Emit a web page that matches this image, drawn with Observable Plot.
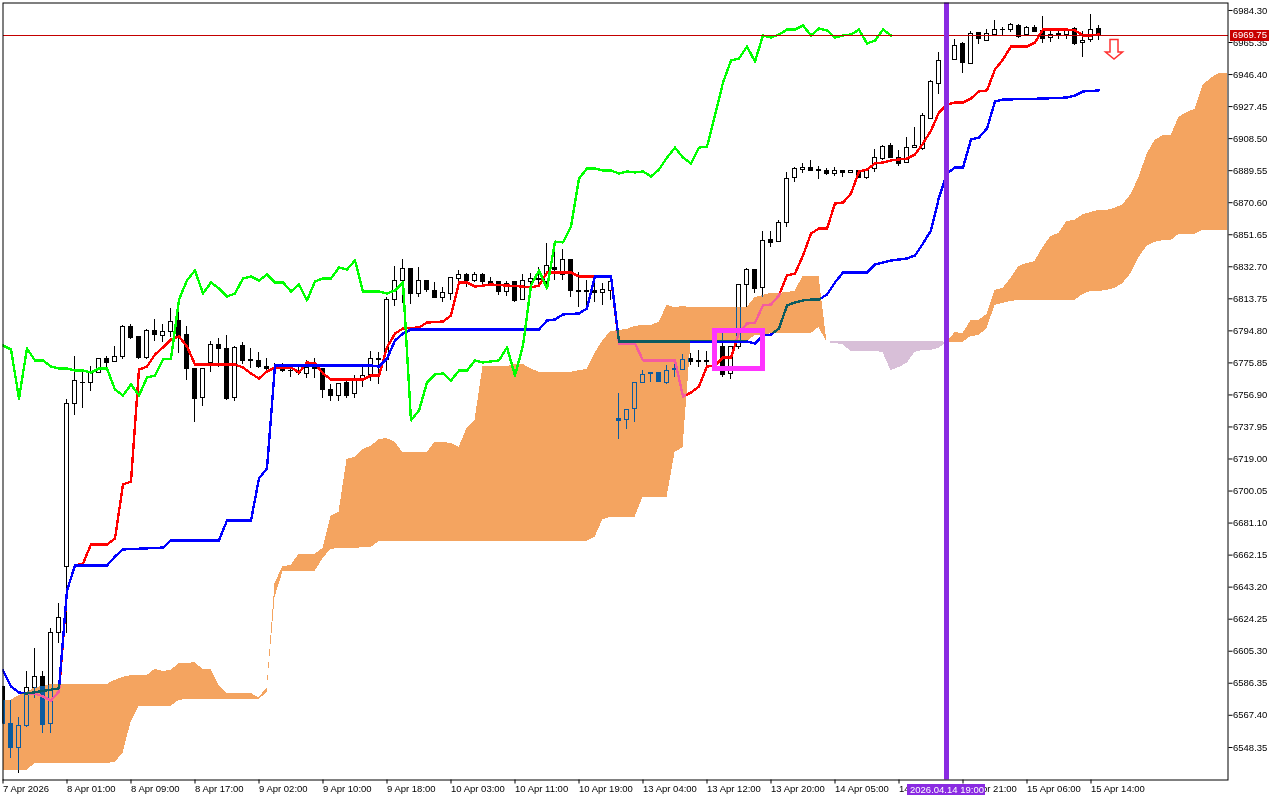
<!DOCTYPE html>
<html><head><meta charset="utf-8">
<script src="https://cdn.jsdelivr.net/npm/d3@7"></script>
<script src="https://cdn.jsdelivr.net/npm/@observablehq/plot@0.6"></script>
<style>html,body{margin:0;padding:0;background:#fff}svg{display:block}</style>
</head><body><div id="chart"></div>
<script>
const openP=[6584.4,6562.5,6548.3,6560.8,6583.3,6590.3,6562.5,6615.8,6655.4,6751.8,6764.2,6763.7,6769.6,6777.9,6776.1,6779.6,6796.8,6790.9,6779.0,6795.0,6792.0,6794.4,6800.9,6792.6,6772.5,6754.8,6775.5,6786.7,6783.8,6754.8,6786.1,6777.3,6776.7,6773.7,6773.1,6771.9,6770.8,6770.8,6769.0,6773.1,6772.5,6760.1,6756.0,6763.7,6757.2,6766.0,6768.4,6777.9,6777.3,6813.3,6824.0,6831.1,6816.3,6824.0,6818.1,6814.5,6816.3,6825.2,6827.6,6824.0,6827.6,6823.4,6823.4,6817.5,6823.4,6812.8,6823.4,6825.2,6823.4,6831.7,6828.1,6837.0,6818.1,6818.1,6818.1,6816.9,6818.1,6742.9,6741.8,6748.3,6764.2,6769.6,6769.6,6764.2,6772.5,6771.9,6778.4,6776.1,6776.7,6778.4,6785.0,6769.0,6785.5,6822.2,6830.5,6819.9,6848.8,6847.1,6858.3,6885.5,6890.2,6891.4,6890.2,6889.6,6887.3,6889.6,6887.9,6889.1,6885.5,6890.8,6896.7,6904.4,6897.3,6893.8,6903.2,6902.6,6920.4,6941.1,6954.7,6955.3,6964.2,6952.9,6970.7,6966.5,6969.5,6973.0,6972.5,6975.4,6969.5,6974.2,6971.9,6968.3,6970.1,6969.5,6973.6,6964.8,6967.1,6973.6];
const highP=[6584.4,6576.2,6566.1,6593.3,6606.9,6593.3,6618.7,6633.5,6754.2,6779.6,6770.8,6773.7,6778.4,6779.6,6785.5,6798.0,6798.6,6790.9,6795.6,6801.5,6798.6,6808.0,6806.2,6797.4,6772.5,6772.5,6788.5,6790.3,6792.0,6785.5,6787.9,6784.4,6782.0,6778.4,6775.5,6775.5,6773.7,6773.7,6777.3,6778.4,6772.5,6763.1,6763.7,6766.6,6768.4,6774.9,6782.6,6782.0,6814.5,6832.9,6837.0,6831.7,6832.3,6824.6,6823.4,6820.4,6825.8,6830.5,6828.7,6829.3,6828.7,6826.4,6824.0,6824.0,6823.4,6828.1,6828.7,6832.3,6846.5,6842.9,6842.9,6837.0,6829.3,6824.6,6822.8,6822.8,6823.4,6757.7,6747.7,6764.2,6771.3,6769.6,6770.2,6774.3,6775.5,6780.8,6781.4,6783.2,6782.6,6780.8,6793.2,6785.5,6822.2,6831.7,6830.5,6853.6,6853.6,6860.1,6888.5,6891.4,6893.8,6895.6,6892.0,6890.8,6891.4,6889.6,6889.1,6889.6,6890.8,6902.1,6904.4,6905.6,6901.5,6909.2,6915.1,6923.4,6942.9,6959.4,6961.8,6967.1,6965.4,6971.9,6970.7,6973.0,6978.4,6974.2,6976.6,6976.0,6974.8,6975.4,6980.7,6972.5,6971.9,6973.6,6974.2,6971.9,6981.9,6975.4];
const lowP=[6562.5,6541.8,6533.0,6560.2,6577.3,6556.6,6556.6,6609.9,6615.8,6744.7,6748.9,6758.9,6769.6,6773.1,6776.1,6777.9,6789.7,6777.9,6777.9,6788.5,6787.9,6790.9,6781.4,6765.4,6740.6,6750.1,6770.2,6773.1,6753.6,6753.0,6774.9,6772.5,6772.5,6769.6,6769.0,6770.2,6767.2,6768.4,6766.6,6766.6,6754.8,6753.0,6753.0,6754.8,6754.8,6761.3,6764.8,6763.1,6770.8,6809.2,6811.0,6810.4,6814.5,6817.5,6813.9,6811.6,6812.8,6820.4,6820.4,6823.4,6821.0,6821.0,6815.7,6815.1,6811.6,6812.8,6817.5,6820.4,6820.4,6824.6,6824.6,6814.5,6808.6,6808.6,6811.6,6809.8,6812.8,6730.5,6736.4,6740.6,6764.2,6764.2,6764.2,6763.1,6767.2,6771.9,6774.3,6773.1,6773.7,6774.9,6767.2,6766.0,6783.8,6808.6,6816.9,6814.5,6844.1,6847.1,6855.9,6882.5,6887.9,6889.1,6884.3,6886.7,6886.1,6885.5,6887.9,6885.5,6884.3,6888.5,6895.6,6897.3,6892.0,6893.8,6903.2,6901.5,6920.4,6934.6,6951.8,6955.3,6947.0,6952.9,6964.2,6966.5,6969.5,6969.5,6971.3,6967.7,6969.5,6971.3,6964.8,6965.4,6967.1,6967.1,6963.6,6956.5,6965.4,6966.5];
const closeP=[6562.5,6547.8,6560.8,6583.3,6589.8,6561.9,6615.8,6624.7,6751.8,6765.4,6763.7,6769.6,6778.4,6775.5,6779.6,6796.8,6790.3,6779.0,6795.0,6792.6,6794.4,6800.3,6792.0,6772.5,6754.2,6772.5,6786.7,6783.8,6754.2,6784.4,6776.7,6776.7,6773.7,6772.5,6772.5,6770.8,6771.3,6769.6,6773.1,6772.5,6760.1,6756.0,6763.1,6756.0,6765.4,6767.8,6777.9,6777.3,6813.3,6824.0,6831.1,6816.3,6824.0,6818.7,6814.5,6816.9,6825.8,6827.6,6824.0,6828.1,6823.4,6822.8,6817.5,6822.8,6812.2,6824.0,6825.2,6824.6,6832.9,6830.5,6837.0,6818.1,6817.5,6817.5,6816.9,6818.7,6823.4,6741.2,6747.7,6764.2,6768.4,6769.0,6764.8,6771.3,6771.9,6777.3,6776.1,6776.7,6776.1,6777.3,6768.4,6785.5,6822.2,6830.5,6819.3,6848.2,6846.5,6858.3,6884.9,6890.8,6891.4,6889.1,6889.6,6887.3,6889.6,6887.9,6889.1,6885.5,6889.6,6897.3,6903.8,6897.3,6893.2,6903.2,6904.4,6921.6,6941.7,6954.7,6959.4,6963.0,6953.5,6970.1,6967.7,6970.1,6973.0,6972.5,6976.0,6968.9,6974.2,6971.3,6967.7,6969.5,6969.5,6971.9,6964.2,6966.5,6973.0,6969.5];

const tenkanBar=[3,4,5,6,7,8,9,10,11,13,14,15,16,17,18,19,20,21,22,23,24,29,30,31,32,33,34,36,37,38,39,40,41,45,46,47,48,49,50,52,53,55,56,57,58,59,61,65,66,67,68,71,72,76,77,79,80,84,85,86,87,88,89,90,91,92,93,94,95,96,97,98,99,100,101,102,103,104,105,106,107,108,109,110,111,112,113,114,115,116,117,118,119,120,121,122,123,124,125,126,128,129,130,133,134,135,136,137];
const tenkan=[6580.3,6580.3,6578.5,6576.2,6581.5,6641.2,6656.0,6657.2,6668.4,6668.4,6672.0,6703.9,6705.7,6771.9,6773.7,6780.8,6785.0,6789.7,6791.5,6785.5,6774.9,6774.9,6773.1,6769.6,6766.6,6770.8,6773.1,6773.1,6770.2,6776.1,6775.5,6769.6,6766.0,6766.0,6768.4,6768.4,6785.0,6793.2,6796.2,6796.8,6799.7,6800.3,6803.9,6823.4,6823.4,6821.0,6822.2,6821.0,6820.4,6821.6,6829.3,6829.3,6827.0,6827.0,6787.3,6787.3,6777.3,6777.3,6756.0,6758.3,6761.9,6773.7,6774.3,6779.0,6779.0,6793.8,6799.1,6799.7,6809.8,6810.4,6815.7,6827.6,6828.7,6839.4,6852.4,6855.3,6855.3,6870.1,6870.7,6876.0,6889.1,6890.2,6893.8,6894.4,6895.6,6896.2,6896.7,6899.1,6905.6,6913.3,6924.0,6928.7,6929.9,6929.9,6932.2,6936.4,6937.0,6949.4,6955.3,6963.0,6963.0,6965.4,6973.0,6973.0,6972.5,6969.5,6969.5,6970.1];

const kijunBar=[0,1,2,3,7,8,9,13,14,15,20,21,27,28,31,32,33,34,46,47,48,49,50,51,67,68,69,70,72,73,74,76,77,93,94,95,96,97,98,99,100,101,102,103,104,105,108,109,110,111,112,113,114,115,116,117,118,119,120,121,122,123,124,125,130,133,134,135,136,137];
const kijun=[6593.9,6584.4,6580.9,6580.3,6583.3,6641.2,6656.0,6656.0,6661.3,6665.5,6666.6,6670.8,6670.8,6682.6,6682.6,6707.5,6713.4,6774.3,6774.3,6773.7,6778.4,6789.1,6793.2,6795.6,6795.6,6800.9,6801.5,6804.5,6805.1,6808.0,6827.0,6827.0,6788.5,6788.5,6787.3,6792.0,6792.6,6796.2,6809.8,6811.6,6812.8,6813.3,6813.3,6816.3,6823.4,6829.3,6829.3,6834.0,6835.2,6836.4,6837.0,6837.6,6839.4,6846.5,6854.2,6873.7,6887.9,6891.4,6891.4,6908.0,6909.2,6914.5,6930.5,6931.6,6932.2,6932.8,6934.0,6936.4,6936.7,6937.0];

const chikou=[6786.1,6783.8,6754.8,6784.4,6777.3,6777.3,6773.7,6772.5,6772.5,6771.3,6771.3,6770.2,6772.5,6772.5,6760.1,6756.6,6763.1,6756.6,6767.2,6768.4,6777.9,6778.4,6813.3,6824.6,6830.5,6816.9,6823.4,6819.9,6815.1,6816.9,6825.8,6827.0,6824.6,6828.1,6823.4,6823.4,6818.1,6822.2,6812.8,6824.0,6825.8,6825.8,6832.3,6831.1,6836.4,6818.1,6818.1,6818.1,6816.9,6818.7,6823.4,6741.8,6747.7,6764.2,6769.0,6769.6,6765.4,6771.3,6771.3,6777.3,6776.1,6776.7,6777.3,6785.0,6768.4,6786.1,6821.6,6830.5,6819.9,6847.6,6847.1,6856.5,6884.9,6890.8,6890.8,6889.6,6889.6,6887.9,6889.1,6888.5,6889.1,6886.1,6890.2,6897.3,6903.2,6897.3,6893.8,6903.2,6903.8,6922.2,6941.7,6954.7,6955.9,6963.0,6954.1,6969.5,6968.3,6970.1,6973.0,6973.0,6975.4,6969.5,6973.6,6972.5,6968.3,6969.5,6970.1,6973.0,6964.8,6966.5,6973.0,6969.5];

const cloudTop=[6576.2,6576.2,6579.1,6580.9,6583.8,6584.4,6585.6,6585.6,6585.6,6585.6,6585.6,6585.6,6585.6,6585.6,6588.0,6589.8,6590.9,6590.9,6590.9,6594.5,6593.3,6593.9,6598.0,6598.0,6598.6,6594.5,6594.5,6585.0,6580.3,6580.3,6580.3,6580.3,6577.9,6583.3,6645.4,6655.4,6656.0,6662.5,6662.5,6662.5,6666.1,6685.0,6687.4,6718.7,6719.9,6724.6,6726.4,6730.5,6731.1,6728.8,6722.8,6722.8,6722.8,6722.8,6728.8,6728.8,6728.2,6725.8,6737.0,6741.8,6773.7,6773.7,6773.7,6773.7,6774.9,6774.9,6772.5,6770.2,6770.2,6770.2,6770.2,6770.2,6771.3,6771.9,6781.4,6789.1,6794.4,6795.0,6795.6,6797.4,6798.0,6798.0,6799.7,6809.8,6808.6,6809.2,6808.6,6808.6,6808.6,6808.6,6808.6,6808.6,6808.6,6808.6,6814.5,6815.7,6816.9,6816.9,6817.5,6818.1,6827.0,6827.0,6827.0,6787.9,6788.5,6788.5,6788.5,6788.5,6788.5,6788.5,6788.5,6788.5,6788.5,6788.5,6788.5,6788.5,6788.5,6788.5,6787.9,6793.8,6793.2,6800.9,6800.9,6804.5,6818.7,6819.9,6825.8,6832.9,6834.6,6835.8,6844.1,6850.6,6852.4,6859.5,6860.1,6863.6,6864.8,6866.0,6866.0,6867.2,6869.5,6875.4,6885.5,6899.1,6907.4,6910.3,6910.3,6921.0,6924.0,6925.7,6939.9,6944.1,6947.0,6947.0];
const cloudBottom=[6534.8,6534.8,6534.8,6534.8,6538.9,6538.9,6538.9,6538.9,6538.9,6538.9,6538.9,6538.9,6538.9,6538.9,6539.5,6544.8,6563.2,6572.6,6572.6,6572.6,6572.6,6572.6,6576.2,6576.7,6576.7,6576.7,6576.7,6576.7,6576.7,6576.7,6576.7,6576.7,6576.7,6580.9,6637.1,6652.4,6652.4,6652.4,6652.4,6652.4,6660.1,6665.5,6666.1,6666.1,6666.1,6666.6,6666.6,6670.2,6670.2,6670.2,6670.2,6670.2,6670.2,6670.2,6670.2,6670.2,6670.2,6670.2,6670.2,6670.2,6670.2,6670.2,6670.2,6670.2,6670.2,6670.2,6670.2,6670.2,6670.2,6670.2,6670.2,6670.2,6670.2,6670.2,6672.6,6683.2,6684.4,6684.4,6684.4,6684.4,6696.2,6696.2,6696.2,6696.2,6722.8,6725.8,6788.5,6788.5,6788.5,6788.5,6788.5,6788.5,6788.5,6788.5,6792.0,6792.0,6793.2,6793.2,6793.2,6793.2,6793.2,6793.2,6796.8,6787.9,6787.3,6786.7,6782.6,6782.6,6782.6,6782.6,6782.0,6771.3,6773.1,6775.5,6782.0,6783.2,6783.2,6784.4,6787.9,6787.9,6787.9,6791.5,6792.0,6796.2,6809.8,6811.0,6812.2,6812.8,6812.8,6812.8,6812.8,6812.8,6812.8,6812.8,6812.8,6816.3,6818.1,6818.1,6818.7,6819.9,6822.8,6828.7,6838.2,6844.7,6847.1,6848.2,6848.2,6851.8,6851.8,6851.8,6854.2,6854.2,6854.2,6854.2];

const xTickBars=[0,8,16,24,32,40,48,56,64,72,80,88,96,104,112,120,128,136];
const xTickLabels=["7 Apr 2026","8 Apr 01:00","8 Apr 09:00","8 Apr 17:00","9 Apr 02:00","9 Apr 10:00","9 Apr 18:00","10 Apr 03:00","10 Apr 11:00","10 Apr 19:00","13 Apr 04:00","13 Apr 12:00","13 Apr 20:00","14 Apr 05:00","14 Apr 13:00","14 Apr 21:00","15 Apr 06:00","15 Apr 14:00"];
const yTickValues=[6984.30,6965.35,6946.40,6927.45,6908.50,6889.55,6870.60,6851.65,6832.70,6813.75,6794.80,6775.85,6756.90,6737.95,6719.00,6700.05,6681.10,6662.15,6643.20,6624.25,6605.30,6586.35,6567.40,6548.35];

const bidPrice=6969.75;
const markerBar=118;
const markerLabel="2026.04.14 19:00";

const FONT='"Liberation Sans",sans-serif';
const candles=openP.map((o,i)=>({i,open:o,high:highP[i],low:lowP[i],close:closeP[i]}));
const tenkanRows=tenkanBar.map((i,k)=>({i,v:tenkan[k]}));
const kijunRows=kijunBar.map((i,k)=>({i,v:kijun[k]}));
const chikouRows=chikou.map((v,i)=>({i,v}));
const cloud=cloudTop.map((t,i)=>({i,top:t,bottom:cloudBottom[i]}));

const arrow={draw(c){c.moveTo(-4,-9.5);c.lineTo(4,-9.5);c.lineTo(4,3);c.lineTo(8.5,3);c.lineTo(0,10);c.lineTo(-8.5,3);c.lineTo(-4,3);c.closePath();}};
const crisp={shapeRendering:"crispEdges"};

const chart=Plot.plot({
  width:1280,height:800,
  marginLeft:2.5,marginRight:52.5,marginTop:2.5,marginBottom:20.5,
  x:{domain:[0,153.125]},
  y:{domain:[6529.13,6988.72]},
  style:{fontFamily:FONT,fontSize:"9.5px",background:"#fff",color:"#000"},
  marks:[
    Plot.frame({fill:"white",stroke:"none"}),
    Plot.ruleX(candles,{x:"i",y1:"low",y2:"high",stroke:"black",strokeWidth:1,dx:-0.5,clip:true,...crisp}),
    Plot.rect(candles.filter(d=>d.close>=d.open),{x1:d=>d.i-.25,x2:d=>d.i+.25,y1:"open",y2:"close",fill:"white",stroke:"black",strokeWidth:1,clip:true,...crisp}),
    Plot.rect(candles.filter(d=>d.close<d.open),{x1:d=>d.i-.25,x2:d=>d.i+.25,y1:"open",y2:"close",fill:"black",stroke:"black",strokeWidth:1,clip:true,...crisp}),
    Plot.line(tenkanRows,{x:"i",y:"v",stroke:"#ff0000",strokeWidth:2.4,clip:true,...crisp}),
    Plot.line(kijunRows,{x:"i",y:"v",stroke:"#0000ff",strokeWidth:2.4,clip:true,...crisp}),
    Plot.areaY(cloud.filter(d=>d.i<=103),{x:"i",y1:"bottom",y2:"top",fill:"#0B5B9F",mixBlendMode:"difference",...crisp}),
    Plot.areaY(cloud.filter(d=>d.i>=103&&d.i<=118),{x:"i",y1:"bottom",y2:"top",fill:"#274027",mixBlendMode:"difference",...crisp}),
    Plot.areaY(cloud.filter(d=>d.i>=118),{x:"i",y1:"bottom",y2:"top",fill:"#0B5B9F",mixBlendMode:"difference",...crisp}),
    Plot.line(chikouRows,{x:"i",y:"v",stroke:"#00ff00",strokeWidth:2.4,clip:true,...crisp}),
    Plot.ruleY([bidPrice],{stroke:"#c40000",strokeWidth:1,...crisp}),
    Plot.rect([{x1:89,x2:95.06,y1:6772.2,y2:6794.7}],{x1:"x1",x2:"x2",y1:"y1",y2:"y2",fill:"none",stroke:"#ff33ff",strokeWidth:5,...crisp}),
    Plot.ruleX([markerBar],{stroke:"#8a2be2",strokeWidth:5,dx:-0.5}),
    Plot.dot([{i:138.875,v:6961.5}],{x:"i",y:"v",symbol:arrow,r:5,fill:"#fff",stroke:"#ff3030",strokeWidth:1.5}),
    Plot.frame({stroke:"black"}),
    Plot.axisX({ticks:xTickBars,tickFormat:d=>xTickLabels[xTickBars.indexOf(d)],tickSize:4,tickPadding:1,textAnchor:"start",label:null,anchor:"bottom",fontSize:"9.5px"}),
    Plot.axisY({ticks:yTickValues,tickFormat:d=>d.toFixed(2),tickSize:4,tickPadding:1,label:null,anchor:"right",textAnchor:"start",fontSize:"9.5px"}),
    Plot.rect([{x1:153.44,x2:158.3,y1:6966.0,y2:6972.5}],{x1:"x1",x2:"x2",y1:"y1",y2:"y2",fill:"#c80000",...crisp}),
    Plot.text([bidPrice],{x:()=>153.7,y:d=>d,text:d=>d.toFixed(2),fill:"white",textAnchor:"start",fontSize:"9.5px"}),
    Plot.rect([{x1:113.06,x2:122.8,y1:6520,y2:6526.5}],{x1:"x1",x2:"x2",y1:"y1",y2:"y2",fill:"#8a2be2",...crisp}),
    Plot.text([markerLabel],{x:()=>markerBar,y:()=>6523.2,text:d=>d,fill:"white",textAnchor:"middle",fontSize:"9.5px"})
  ]
});
document.getElementById("chart").appendChild(chart);
</script></body></html>
